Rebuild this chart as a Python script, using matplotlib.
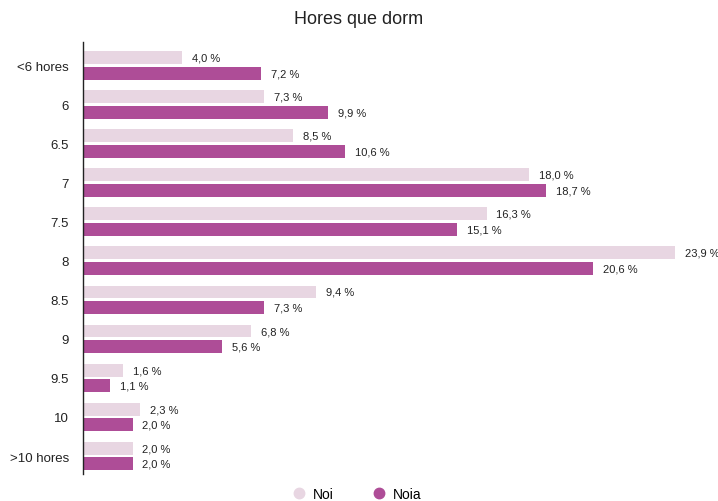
import matplotlib
matplotlib.use("Agg")
import matplotlib.pyplot as plt
from matplotlib.lines import Line2D

plt.rcParams['font.family'] = ['Liberation Sans', 'DejaVu Sans']

categories = ["<6 hores", "6", "6.5", "7", "7.5", "8", "8.5", "9", "9.5", "10", ">10 hores"]
noi = [4.0, 7.3, 8.5, 18.0, 16.3, 23.9, 9.4, 6.8, 1.6, 2.3, 2.0]
noia = [7.2, 9.9, 10.6, 18.7, 15.1, 20.6, 7.3, 5.6, 1.1, 2.0, 2.0]
series_names = ["Noi", "Noia"]
colors = ["#e8d6e2", "#ae4d97"]

fig = plt.figure(figsize=(7.18, 5.02), dpi=100)
ax = fig.add_axes([83/718, 1-475/502, (702-83)/718, (475-43)/502])

ys = list(range(len(categories)))
h = 0.33
off = 0.2
ax.barh([y - off for y in ys], noi, height=h, color=colors[0])
ax.barh([y + off for y in ys], noia, height=h, color=colors[1])

def fmt(v):
    return f"{v:.1f}".replace(".", ",") + " %"

for y, v in zip(ys, noi):
    ax.text(v + 0.4, y - off, fmt(v), va="center", ha="left", fontsize=8, color="#222222")
for y, v in zip(ys, noia):
    ax.text(v + 0.4, y + off, fmt(v), va="center", ha="left", fontsize=8, color="#222222")

ax.set_xlim(0, 25)
ax.set_ylim(10.46, -0.6)
ax.set_yticks(ys)
ax.set_yticklabels(categories, fontsize=9.5, color="#222222")
ax.tick_params(axis="y", length=0, pad=10)
ax.set_xticks([])
for s in ["top", "right", "bottom"]:
    ax.spines[s].set_visible(False)
ax.spines["left"].set_color("#222222")
ax.spines["left"].set_linewidth(1.0)

fig.text(0.5, 1-20/502, "Hores que dorm", ha="center", va="center", fontsize=13, color="#222222")

handles = [Line2D([0], [0], marker="o", linestyle="none", markersize=7.5,
                  markerfacecolor=c, markeredgecolor=c) for c in colors]
fig.legend(handles, series_names, loc="center", bbox_to_anchor=(0.497, 1-495/502),
           ncol=2, frameon=False, fontsize=10, handlelength=1.0, handletextpad=0.55,
           columnspacing=2.7)

fig.savefig("out.png", dpi=100)
